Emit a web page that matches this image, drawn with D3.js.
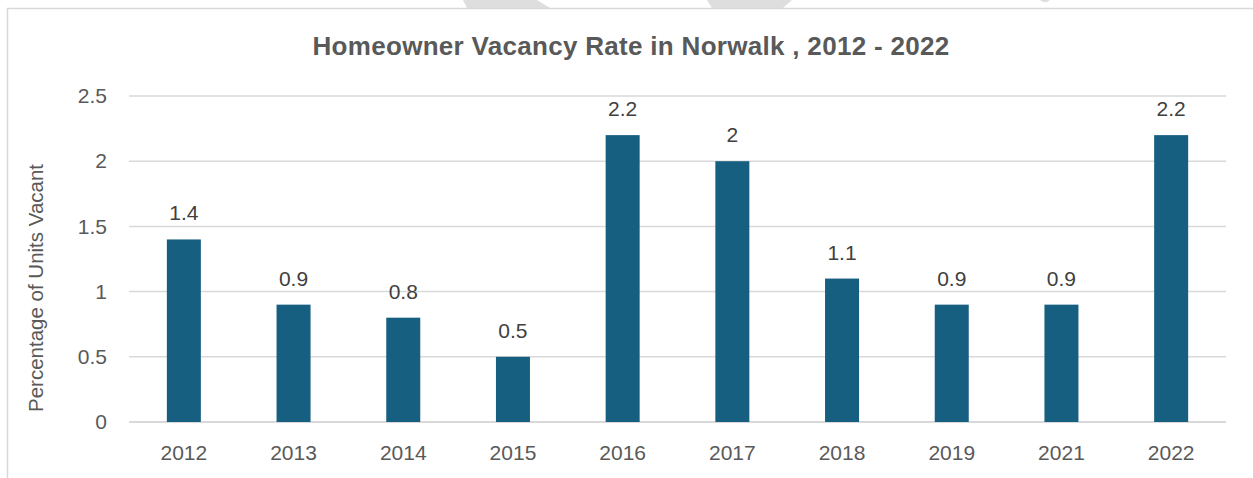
<!DOCTYPE html>
<html>
<head>
<meta charset="utf-8">
<script src="https://cdn.jsdelivr.net/npm/d3@7"></script>
<style>
  html, body { margin: 0; padding: 0; background: #fff; }
  svg { display: block; font-family: "Liberation Sans", Arial, sans-serif; }
</style>
</head>
<body>
<div id="chart"></div>
<script>
// Homeowner vacancy rate, Norwalk
const years = ['2012', '2013', '2014', '2015', '2016', '2017', '2018', '2019', '2021', '2022'];
const rates = [1.4, 0.9, 0.8, 0.5, 2.2, 2.0, 1.1, 0.9, 0.9, 2.2];
const yTicks = [0, 0.5, 1, 1.5, 2, 2.5];

const width = 1253, height = 478;
const margin = { top: 96, right: 27, bottom: 56, left: 129 };

const svg = d3.select('#chart').append('svg')
    .attr('width', width)
    .attr('height', height);

// faint background shapes peeking above the frame
const ghost = [
    [[463, 0], [537, 0], [550, 8], [467, 8]],
    [[707, 0], [792, 0], [783, 8], [712, 8]],
    [[1040, 0], [1050, 0], [1047, 2], [1043, 2]]
];
svg.selectAll('.ghost').data(ghost).enter()
    .append('polygon')
    .attr('points', d => d.map(p => p.join(',')).join(' '))
    .attr('fill', '#dedede');

// chart frame
svg.append('rect')
    .attr('x', 7.5).attr('y', 8.5)
    .attr('width', width + 20).attr('height', height + 20)
    .attr('fill', '#fff')
    .attr('stroke', '#d9d9d9')
    .attr('stroke-width', 1.5);

const x = d3.scaleBand()
    .domain(years)
    .range([margin.left, width - margin.right])
    .paddingInner(0.69)
    .paddingOuter(0.345);

const y = d3.scaleLinear()
    .domain([0, 2.5])
    .range([height - margin.bottom, margin.top]);

// gridlines
svg.append('g')
    .selectAll('line')
    .data(yTicks)
    .enter()
    .append('line')
    .attr('x1', margin.left)
    .attr('x2', width - margin.right)
    .attr('y1', d => y(d))
    .attr('y2', d => y(d))
    .attr('stroke', '#d9d9d9')
    .attr('stroke-width', d => d === 0 ? 2 : 1.5);

// y tick labels
const yAxis = svg.append('g')
    .attr('transform', `translate(${margin.left - 22},0)`)
    .call(d3.axisLeft(y).tickValues(yTicks).tickSize(0).tickPadding(0).tickFormat(d => d));
yAxis.select('.domain').remove();
yAxis.selectAll('text')
    .attr('font-size', 21)
    .attr('fill', '#595959')
    .attr('font-family', '"Liberation Sans", Arial, sans-serif');

// x tick labels
const xAxis = svg.append('g')
    .attr('transform', `translate(0,${height - margin.bottom + 23})`)
    .call(d3.axisBottom(x).tickSize(0).tickPadding(0));
xAxis.select('.domain').remove();
xAxis.selectAll('text')
    .attr('font-size', 21)
    .attr('fill', '#595959')
    .attr('dy', '0.71em')
    .attr('font-family', '"Liberation Sans", Arial, sans-serif');

// bars
svg.selectAll('.bar')
    .data(rates)
    .enter()
    .append('rect')
    .attr('class', 'bar')
    .attr('x', (d, i) => x(years[i]))
    .attr('y', d => y(d))
    .attr('width', x.bandwidth())
    .attr('height', d => y(0) - y(d))
    .attr('fill', '#175f80');

// value labels
svg.selectAll('.val')
    .data(rates)
    .enter()
    .append('text')
    .attr('class', 'val')
    .attr('x', (d, i) => x(years[i]) + x.bandwidth() / 2)
    .attr('y', d => y(d) - 19)
    .attr('text-anchor', 'middle')
    .attr('font-size', 21)
    .attr('fill', '#404040')
    .text(d => d);

// title
svg.append('text')
    .attr('x', 631)
    .attr('y', 55)
    .attr('text-anchor', 'middle')
    .attr('font-size', 26)
    .attr('letter-spacing', 0.3)
    .attr('font-weight', 'bold')
    .attr('fill', '#595959')
    .text('Homeowner Vacancy Rate in Norwalk , 2012 - 2022');

// y axis title
svg.append('text')
    .attr('transform', 'translate(43,288) rotate(-90)')
    .attr('text-anchor', 'middle')
    .attr('font-size', 20.5)
    .attr('fill', '#595959')
    .text('Percentage of Units Vacant');
</script>
</body>
</html>
